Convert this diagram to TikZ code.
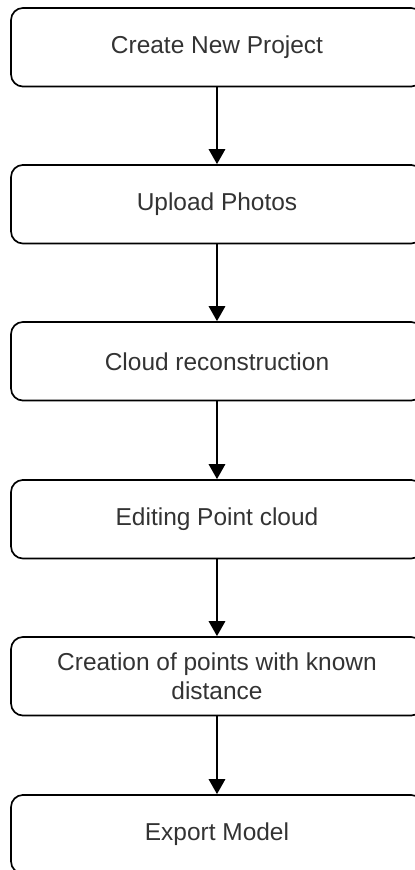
\documentclass[tikz,border=0pt]{standalone}
\usepackage{fontspec}
\setmainfont{Liberation Sans}
\usepackage{tikz}
\usetikzlibrary{arrows.meta}
\definecolor{textgray}{HTML}{333333}
\tikzset{
  stepbox/.style={draw=black, line width=1.6pt, rounded corners=0.4cm,
    minimum width=13.73cm, minimum height=2.62cm, align=center,
    text=textgray, font=\fontsize{23.2}{27.5}\selectfont},
  flow/.style={line width=1.6pt, -{Triangle[length=5mm,width=5.5mm]}}
}

\begin{document}
\begin{tikzpicture}
\useasboundingbox (0,0) rectangle (13.833,-29);
\path (7.233,-1.575) node (create) [stepbox] {Create New Project};
\path (7.233,-6.808) node (upload) [stepbox] {Upload Photos};
\path (7.233,-12.042) node (cloud) [stepbox] {Cloud reconstruction};
\path (7.233,-17.308) node (edit) [stepbox] {Editing Point cloud};
\path (7.233,-22.542) node (points) [stepbox] {Creation of points with known\\distance};
\path (7.233,-27.808) node (export) [stepbox] {Export Model};
\draw[flow] (create) -- (upload);
\draw[flow] (upload) -- (cloud);
\draw[flow] (cloud) -- (edit);
\draw[flow] (edit) -- (points);
\draw[flow] (points) -- (export);
\end{tikzpicture}
\end{document}
